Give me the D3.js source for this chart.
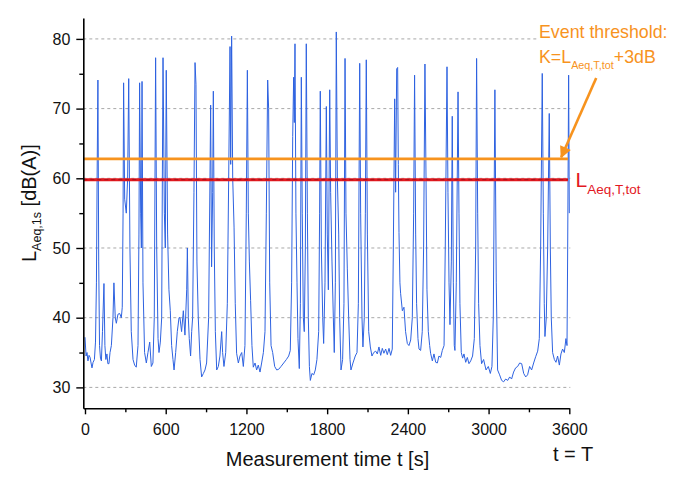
<!DOCTYPE html>
<html>
<head>
<meta charset="utf-8">
<script src="https://cdn.jsdelivr.net/npm/d3@7"></script>
<style>
  html, body { margin: 0; padding: 0; background: #fff; }
  svg { display: block; font-family: "Liberation Sans", Arial, sans-serif; }
</style>
</head>
<body>
<svg id="chart" width="681" height="481"></svg>
<script>
// ---- data ----
const timeSec = [0,8,15,22,30,38,45,52,60,70,78,85,90,96,102,108,115,122,130,141,148,155,163,170,178,186,196,208,215,225,233,245,258,270,277,283,287,295,307,317,325,334,344,357,369,381,394,401,406,414,419,424,431,443,456,468,481,493,505,515,525,533,543,550,560,570,575,580,590,597,604,614,624,634,644,654,662,674,686,699,706,718,731,743,756,761,768,775,785,793,800,810,818,825,832,842,855,867,880,892,904,919,929,934,941,949,954,961,969,979,991,1003,1016,1023,1033,1046,1058,1068,1078,1083,1090,1098,1108,1117,1127,1140,1152,1165,1177,1189,1199,1207,1214,1222,1231,1241,1251,1264,1276,1288,1301,1313,1326,1338,1348,1358,1365,1373,1383,1395,1410,1425,1440,1457,1477,1497,1514,1526,1536,1544,1551,1556,1561,1568,1576,1583,1593,1601,1608,1615,1623,1630,1638,1645,1653,1660,1668,1675,1687,1700,1712,1724,1737,1744,1749,1757,1767,1774,1784,1794,1801,1809,1819,1826,1836,1846,1853,1861,1868,1876,1886,1893,1903,1915,1925,1933,1940,1950,1960,1970,1977,1992,2009,2022,2032,2042,2049,2059,2066,2076,2084,2091,2099,2109,2121,2133,2146,2161,2173,2185,2198,2210,2222,2235,2247,2260,2272,2284,2292,2302,2309,2317,2324,2329,2334,2341,2346,2359,2371,2383,2396,2408,2421,2433,2443,2450,2458,2465,2475,2483,2495,2507,2517,2527,2535,2542,2552,2562,2569,2582,2594,2607,2619,2631,2644,2656,2669,2678,2691,2698,2706,2713,2723,2730,2738,2745,2750,2760,2773,2780,2787,2797,2807,2817,2830,2842,2854,2867,2881,2894,2904,2911,2919,2926,2936,2948,2963,2981,2998,3013,3025,3035,3047,3057,3067,3082,3097,3112,3127,3142,3157,3171,3186,3201,3216,3231,3246,3261,3276,3290,3305,3320,3335,3350,3365,3377,3387,3399,3407,3414,3419,3429,3439,3451,3459,3466,3476,3489,3501,3513,3526,3538,3550,3563,3575,3583,3588,3595,3600];
const levelDb = [37.2,34.5,35.0,33.8,34.6,34.3,33.5,32.8,33.6,34.0,36.5,45,60,74.1,48,36,34.2,33.8,38,44.9,36,34,34.8,33.4,33.4,35,36,40,45,40,39.2,40.5,40.6,40,41.5,55,73.7,57,55,60,74.3,50,38,34,33.2,32.9,36,52,73.7,55,50,73.9,45,35,33.5,35,36.5,33,33.5,40,77.3,50,37,35,36.5,40,60,77.3,55,50,75.5,52,44,41,36,34,32.5,35,38,40,40,38,41,37.5,44,50,40,37,34.5,38,40,58,76.6,73.5,48,40,34,31.5,32,32.5,33.5,40,60,70.5,47.3,58,72.5,50,38,32.5,33,34.5,38,35,33,35,42,60,78.9,62,80.4,60,53,42,34.9,33.5,34.5,35,33,36,55,75.5,55,48,42.5,36,32.9,33.5,32.5,33.2,32.2,33.5,35,38,55,74.1,70,45,36,35,33,32.5,32.6,33,33.5,34,34.5,35.3,45,66,74.5,68,79.3,55,45,37,32.7,42,74.5,55,40,38,50,79.3,55,40,33,31,32,31.8,32.5,34,38,55,72.5,50,40,36.3,45,70.3,52,44,72.7,58,48,40,35,45,81,60,52,40,32.5,34,42,77.2,55,47,40,34,32.5,33.5,34.5,35,42,76.5,55,40,35.8,40,55,77,52,38,35.8,34.5,35,35.2,34.8,35.8,34.6,35.6,34.9,35.5,34.7,35.6,34.6,35.5,50,71.4,58,75.7,75.9,62,52.2,45,43.5,41,41.5,38,36.3,36,36.8,40,55,74.8,52,42,37,35.5,35.3,38,50,76.4,60,44,38,36,34.9,33.8,34.8,33.6,33.5,34.5,34.3,35.3,36,50,76,58,45,39,48,68.9,45,36,35.3,45,72.4,55,42,35,34.2,34.8,33.6,34.3,33.4,33.8,34.5,37,50,77.2,55,42,36,33.4,34,32.5,33,32,33,40,72.7,45,32.5,31.8,31,30.8,31.2,31,31.5,31.2,32.2,32.8,33,33.5,33.4,32,31.5,31.8,33,32.5,33.5,34.4,35.2,37,50,75.1,55,42,37.3,40,50,69.3,50,40,35,34,33.6,34.5,33.2,34.8,35.5,35,37,36,50,74.8,55];
const xTicks = [0, 600, 1200, 1800, 2400, 3000, 3600];
const xMinorTicks = [300, 900, 1500, 2100, 2700, 3300];
const yTicks = [30, 40, 50, 60, 70, 80];
const yMinorTicks = [35, 45, 55, 65, 75];
const laeqTot = 59.8;          // L_Aeq,T,tot
const thresholdK = 62.8;       // K = L_Aeq,T,tot + 3 dB
const refLineEnd = 3590;       // reference lines drawn up to t ≈ T
const arrowTail = [3800, 74.4];
const arrowTip = [3540, 62.8];

if (timeSec.length !== levelDb.length) {
  throw new Error("length mismatch " + timeSec.length + " vs " + levelDb.length);
}

// ---- layout ----
const svg = d3.select("#chart");
const mLeft = 83.3, mRight = 569.3, mTop = 18, mBottom = 408.3;
const x = d3.scaleLinear().domain([-12.6, 3600]).range([mLeft, mRight]);
const y = d3.scaleLinear().domain([27, 83]).range([mBottom, mTop]);

const ORANGE = "#f7931e", RED = "#e3191f", BLUE = "#2e62e0";

const defs = svg.append("defs");
defs.append("clipPath").attr("id", "plotclip")
  .append("rect").attr("x", mLeft).attr("y", mTop).attr("width", mRight - mLeft + 2).attr("height", mBottom - mTop);

defs.append("marker")
  .attr("id", "arrowhead").attr("viewBox", "0 0 10 10").attr("refX", 9).attr("refY", 5)
  .attr("markerWidth", 5).attr("markerHeight", 4.5).attr("orient", "auto")
  .attr("markerUnits", "strokeWidth")
  .append("path").attr("d", "M0,0 L10,5 L0,10 Z").attr("fill", ORANGE);

// grid
svg.append("g").selectAll("line").data(yTicks).join("line")
  .attr("x1", mLeft).attr("x2", x(3600) + 1)
  .attr("y1", d => y(d)).attr("y2", d => y(d))
  .attr("stroke", "#a8a8a8").attr("stroke-width", 1).attr("stroke-dasharray", "3,3");

// series
const line = d3.line().x((d, i) => x(timeSec[i])).y(d => y(d));
svg.append("path").datum(levelDb)
  .attr("clip-path", "url(#plotclip)")
  .attr("d", line).attr("fill", "none")
  .attr("stroke", BLUE).attr("stroke-width", 1).attr("stroke-linejoin", "round");

// reference lines
svg.append("line")
  .attr("x1", mLeft).attr("x2", x(refLineEnd))
  .attr("y1", y(laeqTot)).attr("y2", y(laeqTot))
  .attr("stroke", RED).attr("stroke-width", 3);
svg.append("line")
  .attr("x1", mLeft).attr("x2", x(refLineEnd))
  .attr("y1", y(laeqTot)).attr("y2", y(laeqTot))
  .attr("stroke", "#a3121a").attr("stroke-width", 1).attr("stroke-dasharray", "4,3");
svg.append("line")
  .attr("x1", mLeft).attr("x2", x(refLineEnd))
  .attr("y1", y(thresholdK)).attr("y2", y(thresholdK))
  .attr("stroke", ORANGE).attr("stroke-width", 2.8);

// axes
const fs = 16;
const fmt = d3.format("d");
svg.append("g").attr("transform", `translate(0,${mBottom})`)
  .call(d3.axisBottom(x).tickValues(xTicks).tickFormat(fmt).tickSize(6).tickPadding(9).tickSizeOuter(0));
svg.append("g").attr("transform", `translate(0,${mBottom})`)
  .call(d3.axisBottom(x).tickValues(xMinorTicks).tickSize(4).tickFormat("").tickSizeOuter(0))
  .select(".domain").remove();
svg.append("g").attr("transform", `translate(${mLeft},0)`)
  .call(d3.axisLeft(y).tickValues(yTicks).tickFormat(fmt).tickSize(7).tickPadding(6).tickSizeOuter(0));
svg.append("g").attr("transform", `translate(${mLeft},0)`)
  .call(d3.axisLeft(y).tickValues(yMinorTicks).tickSize(4).tickFormat("").tickSizeOuter(0))
  .select(".domain").remove();

svg.selectAll(".domain").attr("stroke", "#000").attr("stroke-width", 1.6);
svg.selectAll(".tick line").attr("stroke", "#000").attr("stroke-width", 1.4);
svg.selectAll(".tick text").attr("font-size", fs).attr("fill", "#111")
  .attr("font-family", "'Liberation Sans', Arial, sans-serif");

// axis titles
svg.append("text").attr("x", 327.5).attr("y", 466).attr("text-anchor", "middle")
  .attr("font-size", 20).attr("fill", "#111").text("Measurement time t [s]");
svg.append("text").attr("x", 553).attr("y", 461).attr("font-size", 20).attr("fill", "#111").text("t = T");

const yt = svg.append("text").attr("transform", "translate(36,262) rotate(-90)")
  .attr("font-size", 20).attr("fill", "#111");
yt.append("tspan").text("L");
yt.append("tspan").attr("font-size", 12.5).attr("dy", 5).text("Aeq,1s");
yt.append("tspan").attr("dy", -5).text(" [dB(A)]");

// annotations (white backing so the grid does not run through the text)
const annoBg = svg.append("g");
const et = svg.append("text").attr("x", 539).attr("y", 37.7).attr("font-size", 17.8).attr("fill", ORANGE)
  .text("Event threshold:");
const kt = svg.append("text").attr("x", 539).attr("y", 63.3).attr("font-size", 17.8).attr("fill", ORANGE);
kt.append("tspan").text("K=L");
kt.append("tspan").attr("font-size", 10.8).attr("dy", 6).text("Aeq,T,tot");
kt.append("tspan").attr("dy", -6).text("+3dB");
[et, kt].forEach(t => {
  const b = t.node().getBBox();
  annoBg.append("rect").attr("x", b.x - 2).attr("y", b.y).attr("width", b.width + 4).attr("height", b.height + 2)
    .attr("fill", "#fff");
});

const lt = svg.append("text").attr("x", 575.5).attr("y", 187).attr("font-size", 21).attr("fill", RED);
lt.append("tspan").text("L");
lt.append("tspan").attr("font-size", 13.5).attr("dy", 7).text("Aeq,T,tot");

svg.append("line")
  .attr("x1", x(arrowTail[0])).attr("y1", y(arrowTail[1]))
  .attr("x2", x(arrowTip[0])).attr("y2", y(arrowTip[1]) - 1.5)
  .attr("stroke", ORANGE).attr("stroke-width", 2.6)
  .attr("marker-end", "url(#arrowhead)");
</script>
</body>
</html>
